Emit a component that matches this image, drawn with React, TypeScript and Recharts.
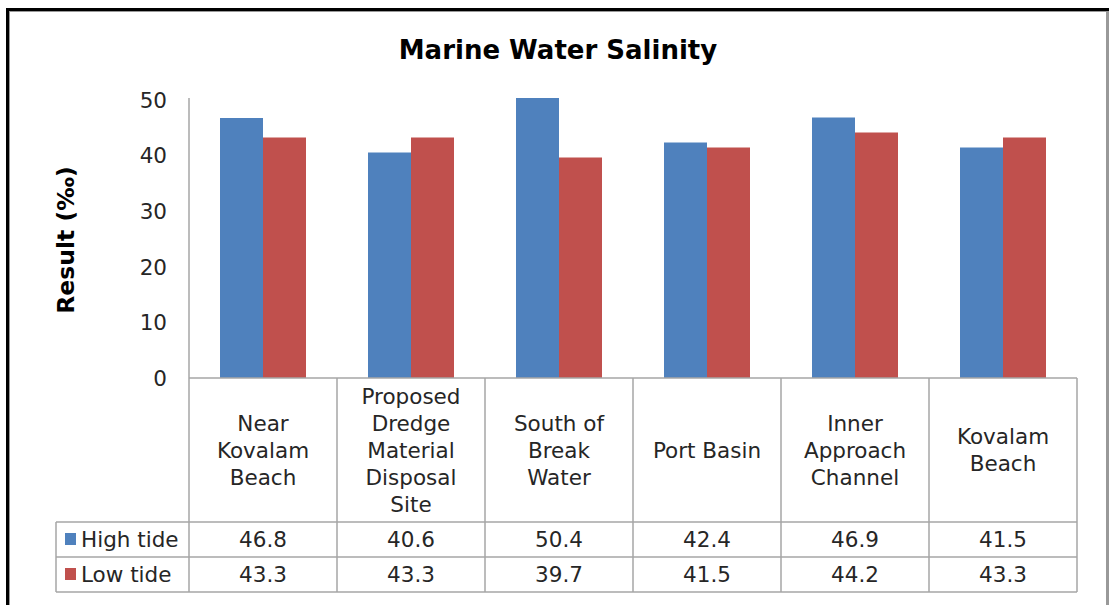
import React from "react";
import { BarChart, Bar, XAxis, YAxis } from "recharts";

const categories = [
  "Near\nKovalam\nBeach",
  "Proposed\nDredge\nMaterial\nDisposal\nSite",
  "South of\nBreak\nWater",
  "Port Basin",
  "Inner\nApproach\nChannel",
  "Kovalam\nBeach",
];
const highTide = [46.8, 40.6, 50.4, 42.4, 46.9, 41.5];
const lowTide = [43.3, 43.3, 39.7, 41.5, 44.2, 43.3];
const yTicks = [0, 10, 20, 30, 40, 50];

const seriesInfo = [
  { key: "high", name: "High tide", color: "#4f81bd", values: highTide },
  { key: "low", name: "Low tide", color: "#c0504d", values: lowTide },
];

const data = categories.map((cat, i) => ({
  cat,
  high: highTide[i],
  low: lowTide[i],
}));

const W = 1109;
const H = 605;
const PLOT_LEFT = 189;
const PLOT_RIGHT = 1077;
const PLOT_BOTTOM = 378;
const LEGEND_LEFT = 56;
const LABEL_H = 144;
const ROW_H = 35;
const LINE_H = 27;
const FONT = "'DejaVu Sans', Verdana, sans-serif";
const GRID = "#a6a6a6";
const TEXT = "#262626";

function TableCell(props: any) {
  const { x, y, payload, index } = props;
  const bw = (PLOT_RIGHT - PLOT_LEFT) / categories.length;
  const left = x - bw / 2;
  const right = x + bw / 2;
  const lines = String(payload.value).split("\n");
  const midY = y + LABEL_H / 2;
  const startY = midY - ((lines.length - 1) * LINE_H) / 2;
  const rowTop = y + LABEL_H;
  const bottom = rowTop + ROW_H * seriesInfo.length;

  return (
    <g fontFamily={FONT} fontSize={21.5} fill={TEXT}>
      {index === 0 && (
        <g>
          <line x1={left} y1={y} x2={left} y2={bottom} stroke={GRID} strokeWidth={1.5} />
          <line x1={LEGEND_LEFT} y1={rowTop} x2={LEGEND_LEFT} y2={bottom} stroke={GRID} strokeWidth={1.5} />
          {seriesInfo.map((s, r) => (
            <g key={s.key}>
              <line
                x1={LEGEND_LEFT}
                y1={rowTop + r * ROW_H}
                x2={left}
                y2={rowTop + r * ROW_H}
                stroke={GRID}
                strokeWidth={1.5}
              />
              <rect x={LEGEND_LEFT + 9} y={rowTop + r * ROW_H + 11} width={11} height={12} fill={s.color} />
              <text x={LEGEND_LEFT + 25} y={rowTop + r * ROW_H + ROW_H / 2} dominantBaseline="central">
                {s.name}
              </text>
            </g>
          ))}
          <line x1={LEGEND_LEFT} y1={bottom} x2={left} y2={bottom} stroke={GRID} strokeWidth={1.5} />
        </g>
      )}
      <line x1={right} y1={y} x2={right} y2={bottom} stroke={GRID} strokeWidth={1.5} />
      {lines.map((ln, k) => (
        <text key={k} x={x} y={startY + k * LINE_H} textAnchor="middle" dominantBaseline="central">
          {ln}
        </text>
      ))}
      {seriesInfo.map((s, r) => (
        <g key={s.key}>
          <line x1={left} y1={rowTop + r * ROW_H} x2={right} y2={rowTop + r * ROW_H} stroke={GRID} strokeWidth={1.5} />
          <text x={x} y={rowTop + r * ROW_H + ROW_H / 2} textAnchor="middle" dominantBaseline="central">
            {s.values[index].toFixed(1)}
          </text>
        </g>
      ))}
      <line x1={left} y1={bottom} x2={right} y2={bottom} stroke={GRID} strokeWidth={1.5} />
    </g>
  );
}

export default function App() {
  return (
    <div style={{ position: "absolute", left: 0, top: 0, width: W, height: H, background: "#fff" }}>
      <div
        style={{
          position: "absolute",
          left: 6,
          top: 8,
          width: W - 6,
          height: H - 8,
          boxSizing: "border-box",
          borderTop: "3px solid #000",
          borderLeft: "3px solid #000",
        }}
      >
        <div
          style={{
            width: "100%",
            height: "100%",
            boxSizing: "border-box",
            borderTop: "1px solid #999",
            borderLeft: "1px solid #999",
            borderRight: "3px solid #999",
          }}
        />
      </div>
      <div style={{ position: "absolute", left: 0, top: 0 }}>
        <BarChart
          width={W}
          height={H}
          data={data}
          margin={{ top: 98, right: W - PLOT_RIGHT, bottom: 0, left: PLOT_LEFT - 60 }}
          barCategoryGap={31}
          barGap={0}
        >
          <text
            x={558}
            y={50}
            textAnchor="middle"
            dominantBaseline="central"
            fontFamily={FONT}
            fontWeight="bold"
            fontSize={26}
            fill="#000"
          >
            Marine Water Salinity
          </text>
          <XAxis
            dataKey="cat"
            height={H - PLOT_BOTTOM}
            interval={0}
            tickLine={false}
            tickSize={0}
            tickMargin={0}
            axisLine={{ stroke: GRID, strokeWidth: 1.5 }}
            tick={<TableCell />}
          />
          <YAxis
            width={60}
            domain={[0, "dataMax"]}
            ticks={yTicks}
            tickLine={false}
            tickSize={0}
            tickMargin={22}
            axisLine={{ stroke: GRID, strokeWidth: 1.5 }}
            tick={{ fontFamily: FONT, fontSize: 21.5, fill: TEXT }}
            label={{
              content: () => (
                <text
                  x={66}
                  y={240}
                  transform="rotate(-90 66 240)"
                  textAnchor="middle"
                  dominantBaseline="central"
                  fontFamily={FONT}
                  fontWeight="bold"
                  fontSize={23.5}
                  fill="#000"
                >
                  Result (‰)
                </text>
              ),
            }}
          />
          <Bar dataKey="high" name="High tide" fill="#4f81bd" isAnimationActive={false} />
          <Bar dataKey="low" name="Low tide" fill="#c0504d" isAnimationActive={false} />
        </BarChart>
      </div>
    </div>
  );
}
